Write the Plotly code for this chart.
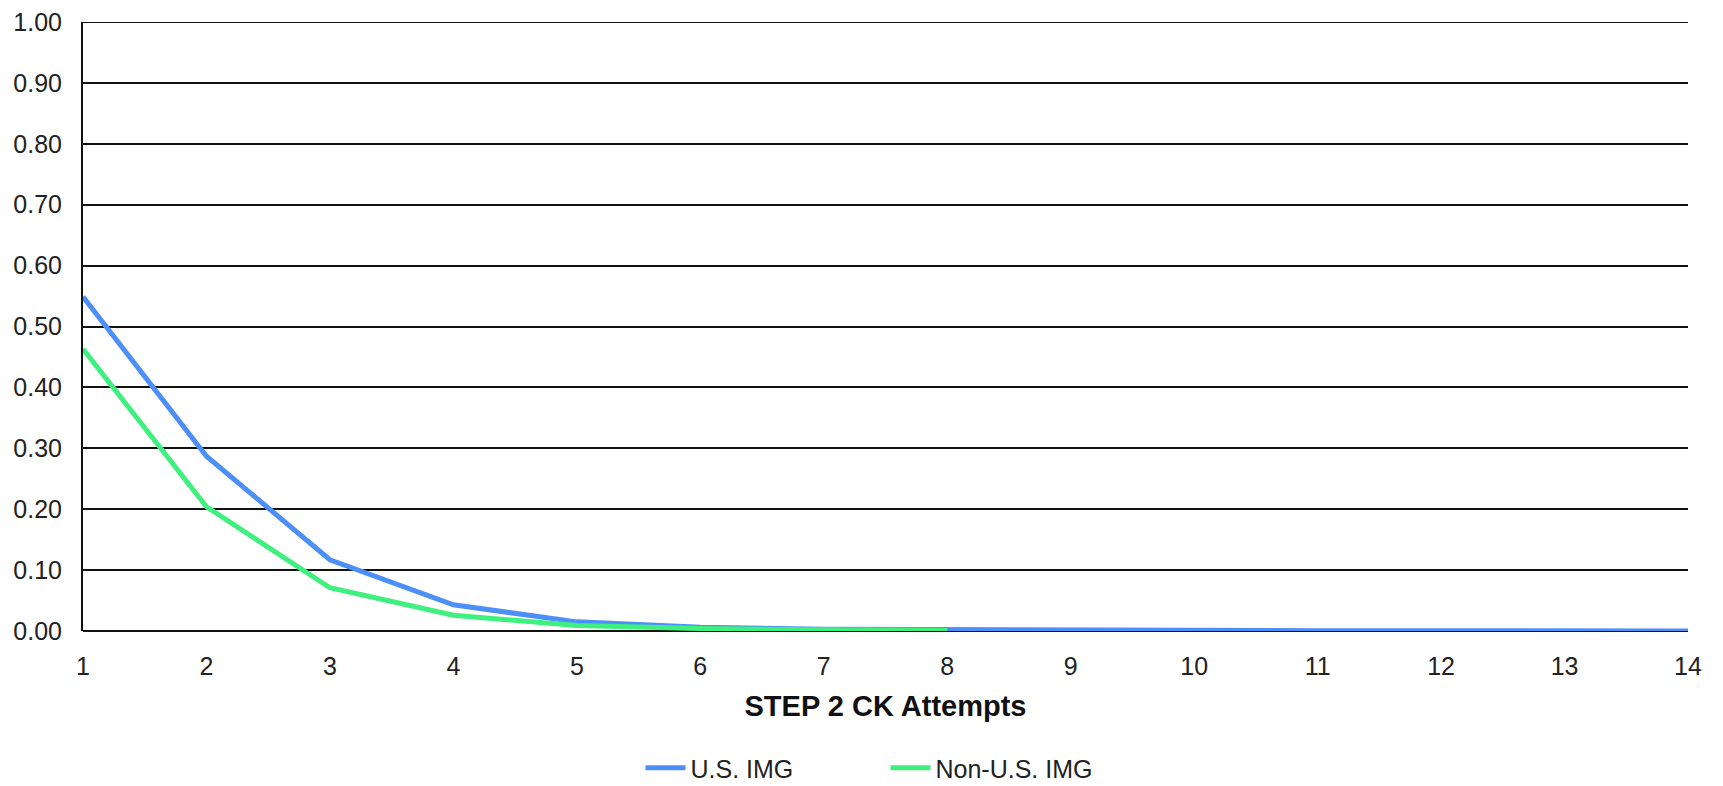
import plotly.graph_objects as go

attempts_us = [1, 2, 3, 4, 5, 6, 7, 8, 9, 10, 11, 12, 13, 14]
us_img = [0.549, 0.287, 0.117, 0.043, 0.015, 0.006, 0.003, 0.002, 0.001, 0.001, 0.0005, 0.0005, 0.0003, 0.0002]
attempts_non = [1, 2, 3, 4, 5, 6, 7, 8]
non_us_img = [0.463, 0.204, 0.071, 0.026, 0.009, 0.004, 0.002, 0.001]
y_ticks = [0.0, 0.1, 0.2, 0.3, 0.4, 0.5, 0.6, 0.7, 0.8, 0.9, 1.0]

fig = go.Figure()
fig.add_trace(go.Scatter(x=attempts_us, y=us_img, mode="lines", name="U.S. IMG",
                         line=dict(color="#4d8ff8", width=5)))
fig.add_trace(go.Scatter(x=attempts_non, y=non_us_img, mode="lines", name="Non-U.S. IMG",
                         line=dict(color="#3ef07e", width=5)))

# page body has an 8px default margin; size the figure so it fills the window
fig.update_layout(
    width=1715, height=778,
    margin=dict(l=75, r=35, t=14, b=155, autoexpand=False),
    paper_bgcolor="white", plot_bgcolor="white",
    font=dict(family="Liberation Sans, Arial, sans-serif", size=25, color="#222"),
    showlegend=True,
    legend=dict(orientation="h", x=0.5, xanchor="center", y=-0.225, yanchor="middle",
                font=dict(size=25, color="#222"), itemwidth=40, tracegroupgap=0,
                entrywidth=190, entrywidthmode="pixels"),
    xaxis=dict(range=[1, 14], tickmode="array", tickvals=list(range(1, 15)),
               showgrid=False, zeroline=False, showline=False, automargin=False,
               ticks="", ticklen=0, ticklabelstandoff=18, ticklabeloverflow="allow",
               title=dict(text="<b>STEP 2 CK Attempts</b>", font=dict(size=29, color="#111"), standoff=16)),
    yaxis=dict(range=[0, 1.0], tickvals=y_ticks, tickformat=".2f", automargin=False,
               showgrid=True, gridcolor="#111", gridwidth=2,
               zeroline=True, zerolinecolor="#111", zerolinewidth=2,
               showline=True, linecolor="#111", linewidth=2,
               ticks="", ticklabelstandoff=14, ticklabeloverflow="allow"),
)

fig.add_shape(type="line", xref="paper", yref="y", x0=0, x1=1, y0=1.0, y1=1.0,
              line=dict(color="#111", width=2), layer="below")

fig.write_html("out.html")
